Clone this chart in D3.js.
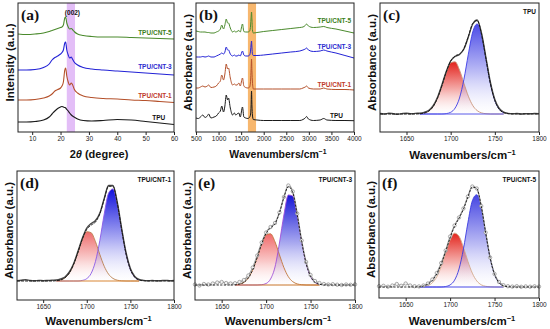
<!DOCTYPE html>
<html><head><meta charset="utf-8">
<script src="https://cdn.jsdelivr.net/npm/d3@7"></script>
<style>body{margin:0;background:#fff}svg{display:block}</style>
</head><body>
<svg id="chart" width="550" height="329"></svg>
<script>
// ---------- (a) XRD ----------
const xrdTheta = [5,8,11,14,16,17,18,19,20,20.5,21,21.5,21.8,22.2,22.7,23.2,23.8,24.2,24.8,26,28,31,35,40,45,50,55,60];
const xrdTPU  = [10,10,10.5,12,15,18,21,23.5,25,25.5,25,24.5,24,22.5,21,19,17,16,15,13,11.5,11,11.5,12.5,12,10.5,9,7.5];
const xrdCNT1 = [32,32,32.5,34,36,38,41,42.5,44,46,50,62,64,56,50,47,49,47.5,43,39,36,34.5,33.5,33,32,31.5,30.5,29.5];
const xrdCNT3 = [62,62,62.5,64.5,68,72,74.5,76,78,79.5,82,89,90,82,77,74,75,73,70,67,64.5,63,62,61,60,59,58,57];
const xrdCNT5 = [98,97.5,98,99,100.5,101.5,102.5,103.5,104.5,105,107,114,115,109,105,103,103.5,102.5,100.5,98,96.5,95.5,95,95,94.5,94,93.5,93];
const xrdTicks = [10,20,30,40,50,60];
const xrdBand = [22.2,25.1];

// ---------- (b) FTIR ----------
const ftWn = [500,550,600,650,700,750,780,830,900,950,1000,1040,1070,1110,1140,1170,1200,1220,1260,1310,1350,1380,1410,1450,1480,1530,1560,1600,1650,1690,1710,1720,1730,1740,1750,1770,1850,2000,2200,2400,2600,2800,2870,2920,2950,2990,3100,3250,3330,3400,3600,3800,4000];
const ftTPU  = [14,13.5,15,17,14.5,16,18,14,15,16,19,21,26,20,26,37,32,34,24,17,19,17,18,19,15,25,15,14,13.5,15,18,26,41,26,17,12.5,12,11.5,11.5,11.5,11.5,11.5,12.5,14,15.5,13,11.5,12,13.5,12,11.5,11.5,11.3];
const ftCNT1 = [44,44,45,46,45,46,47,44.5,45,46,49,51,57,52,58,68,63,64,54,47,48,47,47,49,46,54,46,44.5,44,45,52,62,73,60,50,43,43,43,43,43,43,43,44,45,46,44,43,43,44,43,42.5,42.5,42];
const ftCNT3 = [75,75,75,75.5,75,75.5,76,75,75,76,77,78,79,78,80,85,82,82,78,76,77,76,76,77,76,81,77,76,76,77,82,87,91,84,78,76.5,76.5,77,78,79,80,81,82,83,84,82,80.5,81,82,81,79,76.5,74];
const ftCNT5 = [101,100.5,100,100,100,99.5,99.5,99,99,100,101,103,107,103,107,113,109,109,104,100,101,100,100.5,101.5,100,108,100.5,100,100,101,107,114,120,112,102,99,99.5,100.5,101.5,102.5,103.5,104.5,105,106.5,108,106,104.5,105,105.5,104.5,103,101,99];
const ftTicks = [500,1000,1500,2000,2500,3000,3500,4000];
const ftBand = [1650,1830];

// ---------- (c)-(f) C=O deconvolution ----------
const decWn = [1620,1625,1630,1635,1640,1645,1650,1655,1660,1665,1670,1675,1680,1685,1690,1695,1700,1705,1710,1715,1720,1725,1730,1735,1740,1745,1750,1755,1760,1765,1770,1775,1780,1785,1790,1795,1800];
const decTicks = [1650,1700,1750,1800];

const cRed  = [0,0,0,0,0,0,0,0,0,0.2,0.9,2.7,7.2,15.6,28.0,41.6,51.2,52.2,44.0,30.7,17.8,8.5,3.4,1.1,0.3,0,0,0,0,0,0,0,0,0,0,0,0];
const cBlue = [0,0,0,0,0,0,0,0,0,0,0,0,0,0,0,0.4,1.7,5.9,16.0,34.7,59.8,82.1,90.0,78.5,54.6,30.3,13.4,4.7,1.3,0.3,0,0,0,0,0,0,0];
const cFit  = [0,0,0,0,0,0,0,0,0,0.2,0.9,2.7,7.2,15.6,28.0,42.0,52.9,58.1,60.0,65.4,77.6,90.6,93.4,79.6,54.9,30.3,13.4,4.7,1.3,0.3,0,0,0,0,0,0,0];
const cData = [0.5,0,0.8,0.3,-0.3,0.4,0.8,0.2,0.6,0.8,1.6,3.5,8.0,16.5,29.0,42.5,53.0,57.5,59.5,65.0,77.0,90.0,94.0,80.5,56.0,31.5,14.5,5.5,1.8,0.6,0.2,0.5,0,0.4,0.2,0.5,0.3];

const dRed  = [0,0,0,0,0,0,0,0,0,0.3,1.0,3.2,8.0,16.8,29.0,41.6,49.3,48.3,39.3,26.4,14.7,6.8,2.6,0.8,0.2,0,0,0,0,0,0,0,0,0,0,0,0];
const dBlue = [0,0,0,0,0,0,0,0,0,0,0,0,0,0,0,0.6,2.4,7.6,19.7,40.7,67.0,87.9,92.1,76.8,51.0,27.1,11.5,3.8,1.0,0.2,0,0,0,0,0,0,0];
const dFit  = [0,0,0,0,0,0,0,0,0,0.3,1.0,3.2,8.0,16.8,29.0,42.2,51.7,55.9,59.0,67.1,81.7,94.7,94.7,77.6,51.2,27.1,11.5,3.8,1.0,0.2,0,0,0,0,0,0,0];
const dData = [0.3,0.8,1.2,0.5,0.2,0.6,0.3,0.5,0.8,1.0,2.0,4.0,9.0,17.5,30.0,43.0,53.0,57.5,60.5,68.0,82.5,95.5,95.5,78.5,52.5,28.5,12.5,4.5,1.5,0.6,0.3,0.5,0.2,0.4,0.6,0.3,0.5];

const eRed  = [0,0,0,0,0,0,0,0,0,0.2,0.9,2.6,7.1,15.3,27.5,40.8,50.2,51.2,43.2,30.2,17.5,8.3,3.3,1.1,0.3,0,0,0,0,0,0,0,0,0,0,0,0];
const eBlue = [0,0,0,0,0,0,0,0,0,0,0,0,0,0,0,0.3,1.5,6.0,18.0,42.0,70.0,90.0,89.0,69.0,43.0,21.5,8.5,2.7,0.7,0.1,0,0,0,0,0,0,0];
const eFit  = [0,0,0,0,0,0,0,0,0,0.2,0.9,2.6,7.1,15.3,27.5,41.1,51.7,57.2,61.2,72.2,87.5,98.3,92.3,70.1,43.3,21.5,8.5,2.7,0.7,0.1,0,0,0,0,0,0,0];
const eData = [0.5,-0.5,1.0,0.5,1.5,2.5,3.0,2.0,1.5,1.8,3.0,5.0,9.5,17.5,29.5,42.5,52.5,58.0,62.0,72.5,88.0,99.5,93.5,71.5,44.5,23.0,10.0,4.0,2.0,1.0,0.5,0.8,0.3,0,0.5,0.2,0.6];

const fRed  = [0,0,0,0,0,0,0,0,0,0.1,0.4,1.4,4.2,10.2,20.5,34.2,47.1,53.8,50.8,39.7,25.7,13.8,6.1,2.2,0.7,0.2,0,0,0,0,0,0,0,0,0,0,0];
const fBlue = [0,0,0,0,0,0,0,0,0,0,0,0,0,0,0,0.5,2.1,6.8,18.0,38.1,64.2,86.2,92.3,78.7,53.6,29.0,12.6,4.3,1.2,0.3,0,0,0,0,0,0,0];
const fFit  = [0,0,0,0,0,0,0,0,0,0.1,1.0,2.8,6.5,13.0,23.0,35.5,49.2,60.6,68.8,77.8,89.9,100.0,98.4,80.9,54.3,29.2,12.6,4.3,1.2,0.3,0,0,0,0,0,0,0];
const fData = [0.8,1.2,0.3,1.5,3.0,1.2,3.5,1.5,0.8,0.6,1.5,3.5,7.5,14.0,24.0,36.5,50.5,61.5,69.5,78.5,90.5,100.5,98.5,81.0,54.5,29.5,13.0,5.0,1.8,0.8,0.4,0.8,0.2,0.6,0.3,0.7,0.4];

const sampleNames = ["TPU","TPU/CNT-1","TPU/CNT-3","TPU/CNT-5"];

// ---------- drawing ----------
const svg = d3.select('#chart');
const defs = svg.append('defs');
const SANS = "'Liberation Sans', Arial, sans-serif";
const SERIF = "'Liberation Serif', 'Times New Roman', serif";

function makePanel(p){
  const x = d3.scaleLinear().domain(p.xd).range([p.x0,p.x1]);
  const y = d3.scaleLinear().domain(p.yd).range([p.y1,p.y0]);
  const g = svg.append('g');
  return {x,y,g,p};
}
function finishPanel(P, ticks, xTitle, yTitle, letter, titleSize){
  const p = P.p;
  const ax = d3.axisBottom(P.x).tickValues(ticks).tickSize(3).tickPadding(1).tickFormat(d3.format('d'));
  const ga = P.g.append('g').attr('transform',`translate(0,${p.y1})`).call(ax);
  ga.select('.domain').remove();
  ga.selectAll('line').attr('stroke','#222');
  ga.selectAll('text').attr('font-family',SANS).attr('font-size',6.5).attr('fill','#222');
  P.g.append('rect').attr('x',p.x0).attr('y',p.y0).attr('width',p.x1-p.x0).attr('height',p.y1-p.y0)
    .attr('fill','none').attr('stroke','#222').attr('stroke-width',1);
  // x title
  const xt = P.g.append('text').attr('x',(p.x0+p.x1)/2+3).attr('y',p.titleY)
    .attr('text-anchor','middle').attr('font-family',SANS).attr('font-weight','bold')
    .attr('font-size',titleSize).attr('fill','#111');
  xTitle(xt);
  // y title
  P.g.append('text').attr('transform',`translate(${p.x0-4},${(p.y0+p.y1)/2-5}) rotate(-90)`)
    .attr('text-anchor','middle').attr('font-family',SANS).attr('font-weight','bold')
    .attr('font-size',11.5).attr('fill','#111').text(yTitle);
  // letter
  P.g.append('text').attr('x',p.x0+3).attr('y',p.y0+17).attr('font-family',SERIF)
    .attr('font-weight','bold').attr('font-size',15.5).attr('fill','#111').text(letter);
}
const wnTitle = t => { t.append('tspan').text('Wavenumbers/cm'); t.append('tspan').attr('dy',-4).attr('font-size','0.65em').text('\u22121'); };

// ===== (a) =====
{
  const P = makePanel({x0:18,x1:174,y0:3,y1:132,xd:[5,60],yd:[0,129],titleY:158});
  const {x,y,g} = P;
  g.append('rect').attr('x',x(xrdBand[0])).attr('y',3).attr('width',x(xrdBand[1])-x(xrdBand[0])).attr('height',129)
    .attr('fill','#d9a8f4').attr('opacity',0.75);
  const line = d3.line().x((d,i)=>x(xrdTheta[i])).y(d=>y(d)).curve(d3.curveMonotoneX);
  const series = [[xrdTPU,'#1a1a1a'],[xrdCNT1,'#b4502a'],[xrdCNT3,'#2323d6'],[xrdCNT5,'#4a8a2c']];
  series.forEach(([s,c])=>g.append('path').attr('d',line(s)).attr('fill','none').attr('stroke',c).attr('stroke-width',1.1));
  const lab = [[56.9,12,'#111'],[59.2,34,'#c03a2b'],[59.2,63,'#2b2bd0'],[59.2,97,'#3d7f22']];
  lab.forEach(([lx,ly,c],i)=>g.append('text').attr('x',x(lx)).attr('y',y(ly)).attr('text-anchor','end')
    .attr('font-family',SANS).attr('font-weight','bold').attr('font-size',6.5).attr('fill',c).text(sampleNames[i]));
  g.append('text').attr('x',x(24.2)).attr('y',y(117)).attr('text-anchor','middle').attr('font-family',SANS)
    .attr('font-weight','bold').attr('font-size',6.5).attr('fill','#111').text('(002)');
  finishPanel(P, xrdTicks, t=>{ t.append('tspan').text('2'); t.append('tspan').attr('font-style','italic').text('\u03b8'); t.append('tspan').text(' (degree)'); },
    'Intensity (a.u.)','(a)',11);
}

// ===== (b) =====
{
  const P = makePanel({x0:196,x1:354,y0:3,y1:132,xd:[500,4000],yd:[0,129],titleY:158});
  const {x,y,g} = P;
  g.append('rect').attr('x',x(ftBand[0])).attr('y',3).attr('width',x(ftBand[1])-x(ftBand[0])).attr('height',129)
    .attr('fill','#f5a54a').attr('opacity',0.8);
  const line = d3.line().x((d,i)=>x(ftWn[i])).y(d=>y(d)).curve(d3.curveMonotoneX);
  const series = [[ftTPU,'#1a1a1a'],[ftCNT1,'#b4502a'],[ftCNT3,'#2323d6'],[ftCNT5,'#4a8a2c']];
  series.forEach(([s,c])=>g.append('path').attr('d',line(s)).attr('fill','none').attr('stroke',c).attr('stroke-width',1));
  const lab = [[3757,14,'#111'],[3934,45,'#c03a2b'],[3934,83,'#2b2bd0'],[3934,109,'#3d7f22']];
  lab.forEach(([lx,ly,c],i)=>g.append('text').attr('x',x(lx)).attr('y',y(ly)).attr('text-anchor','end')
    .attr('font-family',SANS).attr('font-weight','bold').attr('font-size',6.5).attr('fill',c).text(sampleNames[i]));
  finishPanel(P, ftTicks, wnTitle, 'Absorbance (a.u.)','(b)',10.5);
}

// ===== (c)-(f) =====
function deconv(cfg){
  const P = makePanel({x0:cfg.x0,x1:cfg.x1,y0:cfg.y0,y1:cfg.y1,xd:[1620,1800],yd:cfg.yd,titleY:cfg.titleY});
  const {x,y,g} = P;
  const id = cfg.id;
  function grad(name, color, top){
    const lg = defs.append('linearGradient').attr('id',id+name).attr('gradientUnits','userSpaceOnUse')
      .attr('x1',0).attr('x2',0).attr('y1',y(top)).attr('y2',y(0));
    lg.append('stop').attr('offset',0).attr('stop-color',color).attr('stop-opacity',1);
    lg.append('stop').attr('offset',0.55).attr('stop-color',color).attr('stop-opacity',0.35);
    lg.append('stop').attr('offset',1).attr('stop-color','#ffffff').attr('stop-opacity',0.1);
  }
  grad('r', cfg.redFill, d3.max(cfg.red));
  grad('b', cfg.blueFill, d3.max(cfg.blue));
  const lo = 9, hi = 29;
  const wn = decWn.slice(lo,hi);
  const area = d3.area().x((d,i)=>x(wn[i])).y0(y(0)).y1(d=>y(d)).curve(d3.curveMonotoneX);
  const line = d3.line().x((d,i)=>x(wn[i])).y(d=>y(d)).curve(d3.curveMonotoneX);
  const full = d3.line().x((d,i)=>x(decWn[i])).y(d=>y(d)).curve(d3.curveMonotoneX);
  g.append('path').attr('d',area(cfg.red.slice(lo,hi))).attr('fill',`url(#${id}r)`);
  g.append('path').attr('d',area(cfg.blue.slice(lo,hi))).attr('fill',`url(#${id}b)`);
  g.append('path').attr('d',line(cfg.red.slice(lo,hi))).attr('fill','none').attr('stroke',cfg.redLine).attr('stroke-width',0.9);
  g.append('path').attr('d',line(cfg.blue.slice(lo,hi))).attr('fill','none').attr('stroke',cfg.blueLine).attr('stroke-width',0.9);
  g.append('line').attr('x1',x(wn[0])).attr('x2',x(wn[wn.length-1])).attr('y1',y(0)).attr('y2',y(0))
    .attr('stroke',cfg.baseLine).attr('stroke-width',1);
  if(cfg.circles){
    g.append('path').attr('d',full(cfg.data)).attr('fill','none').attr('stroke','#a0a0a0').attr('stroke-width',1.3);
    g.selectAll(null).data(cfg.data).enter().append('circle').attr('cx',(d,i)=>x(decWn[i])).attr('cy',d=>y(d))
      .attr('r',1.7).attr('fill','#f2f2f2').attr('stroke','#8c8c8c').attr('stroke-width',0.7);
  } else {
    g.append('path').attr('d',full(cfg.data)).attr('fill','none').attr('stroke','#4a4a4a').attr('stroke-width',1.4);
  }
  g.append('path').attr('d',full(cfg.fit)).attr('fill','none').attr('stroke','#111').attr('stroke-width',0.9)
    .attr('stroke-dasharray',cfg.circles?'2.2,1.4':'3,1');
  g.append('text').attr('x',cfg.x1-3).attr('y',cfg.y0+11).attr('text-anchor','end').attr('font-family',SANS)
    .attr('font-weight','bold').attr('font-size',6.5).attr('fill','#111').text(cfg.name);
  finishPanel(P, decTicks, wnTitle, 'Absorbance (a.u.)', cfg.letter, 11.5);
}
deconv({id:'c',x0:380,x1:539,y0:3,y1:132,yd:[-18,111],titleY:159,red:cRed,blue:cBlue,fit:cFit,data:cData,
  redFill:'#e3221c',blueFill:'#4b4be6',redLine:'#c9957a',blueLine:'#3c3ce6',baseLine:'#5b5be8',circles:false,name:sampleNames[0],letter:'(c)'});
deconv({id:'d',x0:17,x1:174,y0:171,y1:300,yd:[-19,110],titleY:325,red:dRed,blue:dBlue,fit:dFit,data:dData,
  redFill:'#ee6c6c',blueFill:'#1212dc',redLine:'#b9804f',blueLine:'#8a5ae6',baseLine:'#d98634',circles:false,name:sampleNames[1],letter:'(d)'});
deconv({id:'e',x0:195,x1:355,y0:171,y1:300,yd:[-15,114],titleY:325,red:eRed,blue:eBlue,fit:eFit,data:eData,
  redFill:'#f06a6a',blueFill:'#1616d6',redLine:'#c0763a',blueLine:'#a050d8',baseLine:'#c8742a',circles:true,name:sampleNames[2],letter:'(e)'});
deconv({id:'f',x0:379,x1:539,y0:171,y1:298,yd:[-11,116],titleY:325,red:fRed,blue:fBlue,fit:fFit,data:fData,
  redFill:'#e3261e',blueFill:'#4646e2',redLine:'#d2a98a',blueLine:'#3a3ae0',baseLine:'#4848e6',circles:true,name:sampleNames[3],letter:'(f)'});
</script>
</body></html>
